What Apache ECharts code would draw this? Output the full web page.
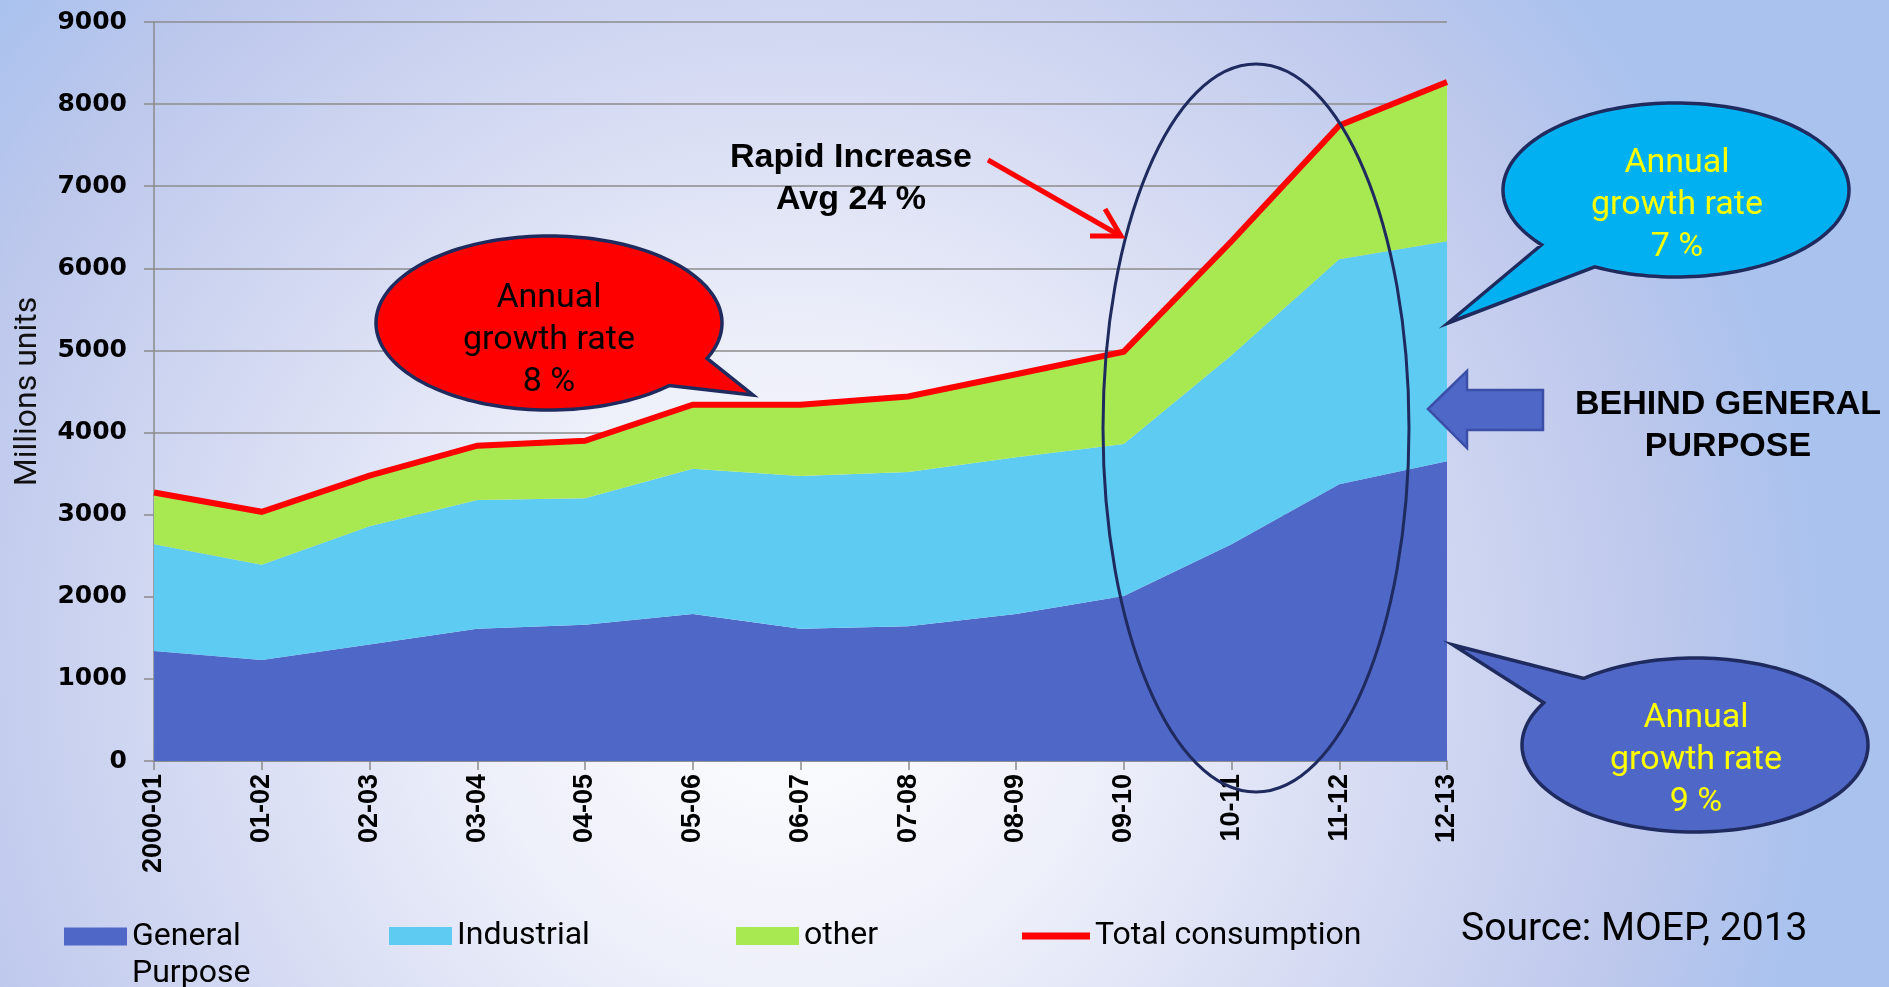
<!DOCTYPE html>
<html><head><meta charset="utf-8">
<script src="https://cdn.jsdelivr.net/npm/echarts@6/dist/echarts.min.js"></script>
<style>html,body{margin:0;padding:0;overflow:hidden;}#chart{width:1889px;height:987px;}</style>
</head><body><div id="chart"></div>
<script>
// ---- data ----
const categories = ['2000-01','01-02','02-03','03-04','04-05','05-06','06-07','07-08','08-09','09-10','10-11','11-12','12-13'];
const generalPurpose = [1340,1230,1420,1610,1660,1790,1610,1640,1790,2010,2640,3370,3650];
const industrial     = [1300,1160,1440,1570,1540,1770,1860,1880,1910,1850,2300,2740,2680];
const other          = [ 630, 645, 615, 660, 700, 780, 870, 920,1010,1125,1390,1630,1940];
const totalConsumption = [3270,3035,3475,3840,3900,4340,4340,4440,4710,4985,6330,7740,8270];
const yMin = 0, yMax = 9000, yInterval = 1000;
const seriesNames = ['General Purpose','Industrial','other','Total consumption'];

const C_GP = '#4f67c7', C_IND = '#5ecbf2', C_OTH = '#a8e952', C_TOT = '#ff0000', C_NAVY = '#1f2b5e';
const TXT = 'Roboto';

// speech-bubble outline: ellipse arc (long way from tA to tB) + tail tip
function bubblePoints(cx, cy, rx, ry, tA, tB, tip) {
  const pts = [];
  const end = tB + 360;
  const n = 160;
  for (let i = 0; i <= n; i++) {
    const t = (tA + (end - tA) * i / n) * Math.PI / 180;
    pts.push([cx + rx * Math.cos(t), cy + ry * Math.sin(t)]);
  }
  pts.push(tip);
  return pts;
}
function bubbleText(x, y, lines, color) {
  return {type:'text', z:110, x:x, y:y, style:{text: lines.join('\n'), fill: color, font: `34px ${TXT}`, lineHeight: 42, align:'center', verticalAlign:'middle'}};
}

const chart = echarts.init(document.getElementById('chart'), null, {renderer:'canvas'});
const areaSeries = (name, data, color) => ({
  name, type:'line', stack:'consumption', data, symbol:'none', color,
  lineStyle:{width:0}, areaStyle:{color, opacity:1}, itemStyle:{color}, z:2
});
const legendBase = {icon:'rect', itemWidth:63, itemHeight:18, itemGap:5, padding:0, selectedMode:false,
  textStyle:{fontFamily:TXT, fontSize:32, color:'#000'}};

chart.setOption({
  animation:false,
  backgroundColor:{type:'radial', x:0.42, y:0.68, r:1.05, colorStops:[
    {offset:0, color:'#ffffff'}, {offset:0.3, color:'#eef0fa'}, {offset:0.6, color:'#d3d9f2'},
    {offset:0.85, color:'#bcc7ec'}, {offset:1, color:'#a9c2ee'}]},
  grid:{left:154, right:442, top:22, bottom:226, containLabel:false},
  xAxis:{type:'category', data:categories, boundaryGap:false,
    axisLine:{lineStyle:{color:'#8a8a8a', width:1.5}},
    axisTick:{show:true, length:9, lineStyle:{color:'#8a8a8a', width:1.5}, alignWithLabel:true},
    axisLabel:{rotate:90, margin:13, fontFamily:'Liberation Sans', fontWeight:'bold', fontSize:27, color:'#000'}},
  yAxis:{type:'value', min:yMin, max:yMax, interval:yInterval,
    name:'Millions units', nameLocation:'middle', nameGap:110,
    nameTextStyle:{fontFamily:TXT, fontSize:32, color:'#111'},
    axisLine:{show:true, lineStyle:{color:'#8a8a8a', width:1.5}},
    axisTick:{show:true, length:10, lineStyle:{color:'#8a8a8a', width:1.5}},
    splitLine:{lineStyle:{color:'#8c8c8c', width:1.5}},
    axisLabel:{margin:27, formatter: v => String(v), fontFamily:'DejaVu Sans', fontWeight:'bold', fontSize:25, color:'#000'}},
  legend:[
    Object.assign({}, legendBase, {data:[seriesNames[0]], left:64, top:881,
      formatter:()=> ' \nGeneral\nPurpose',
      textStyle:{fontFamily:TXT, fontSize:32, lineHeight:37, color:'#000'}}),
    Object.assign({}, legendBase, {data:[seriesNames[1]], left:389, top:920}),
    Object.assign({}, legendBase, {data:[seriesNames[2]], left:736, top:920}),
    Object.assign({}, legendBase, {data:[seriesNames[3]], left:1022, top:920, itemWidth:68, itemHeight:7})
  ],
  series:[
    areaSeries(seriesNames[0], generalPurpose, C_GP),
    areaSeries(seriesNames[1], industrial, C_IND),
    areaSeries(seriesNames[2], other, C_OTH),
    {name:seriesNames[3], type:'line', data:totalConsumption, symbol:'none', color:C_TOT,
     itemStyle:{color:C_TOT}, lineStyle:{color:C_TOT, width:6, join:'miter'}, z:5}
  ],
  graphic:[
    {type:'ellipse', z:100, shape:{cx:1256, cy:428, rx:153, ry:364}, style:{fill:null, stroke:C_NAVY, lineWidth:3}},
    {type:'polygon', z:105, shape:{points: bubblePoints(549,323,173,87,46,24,[753,395])}, style:{fill:'#ff0000', stroke:C_NAVY, lineWidth:3.5}},
    bubbleText(549, 340, ['Annual','growth rate','8 %'], '#000'),
    {type:'polygon', z:105, shape:{points: bubblePoints(1676,190,173,87,141,118,[1448,323])}, style:{fill:'#00b0f0', stroke:C_NAVY, lineWidth:3.5}},
    bubbleText(1677, 205, ['Annual','growth rate','7 %'], '#ffff00'),
    {type:'polygon', z:105, shape:{points: bubblePoints(1695,745,173,87,230,209,[1453,645])}, style:{fill:C_GP, stroke:C_NAVY, lineWidth:3.5}},
    bubbleText(1696, 760, ['Annual','growth rate','9 %'], '#ffff00'),
    {type:'polygon', z:105, shape:{points:[[1428,409],[1467,371],[1467,390],[1543,390],[1543,430],[1467,430],[1467,448]]},
     style:{fill:C_GP, stroke:'#3b4fa8', lineWidth:2.5}},
    {type:'text', z:110, x:1728, y:426, style:{text:'BEHIND GENERAL\nPURPOSE', fill:'#000', font:'bold 34px "Liberation Sans"', lineHeight:42, align:'center', verticalAlign:'middle'}},
    {type:'text', z:110, x:851, y:179, style:{text:'Rapid Increase\nAvg 24 %', fill:'#000', font:'bold 34px "Liberation Sans"', lineHeight:42, align:'center', verticalAlign:'middle'}},
    {type:'line', z:106, shape:{x1:988, y1:160, x2:1119, y2:235}, style:{stroke:'#ff0000', lineWidth:5}},
    {type:'polyline', z:106, shape:{points:[[1090,236],[1121,236],[1105,209]]}, style:{stroke:'#ff0000', lineWidth:5, fill:null, lineJoin:'miter'}},
    {type:'text', z:110, x:1461, y:930, style:{text:'Source: MOEP, 2013', fill:'#000', font:`39px ${TXT}`, align:'left', verticalAlign:'middle'}}
  ]
});
</script>
</body></html>
